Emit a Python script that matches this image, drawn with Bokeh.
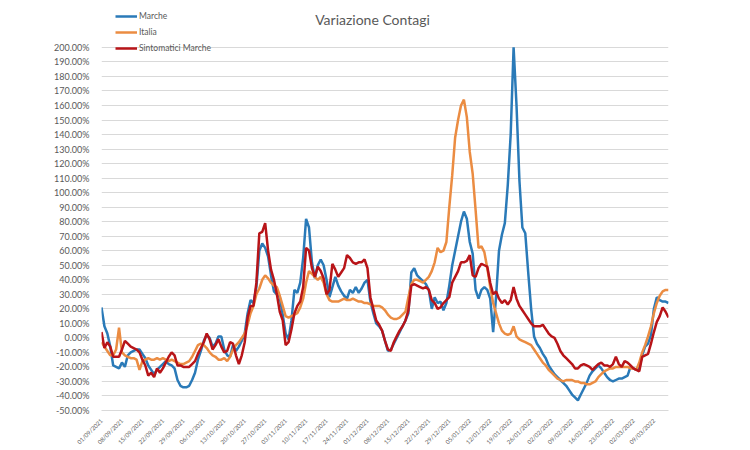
from math import pi
from bokeh.plotting import figure
from bokeh.models import Range1d, FixedTicker, PrintfTickFormatter, Legend, LegendItem, Label
from bokeh.embed import file_html
from bokeh.resources import INLINE

# Daily percentage change, from 01/09/2021
marche = [21, 8, 3, -6, -19, -20, -21, -17, -20, -12, -10, -9, -8, -8, -11, -14, -19, -22, -25, -22,
          -20, -18, -16, -18, -19, -21, -29, -33, -34, -34, -33, -29, -24, -15, -9, -2,
          2, 0, -6, -4, 1, 1, -8, -12, -13, -5, -9, -6, -2, 3, 17, 26, 24, 35, 60, 65, 62, 56, 43, 32,
          30, 28, 16, 3, -1, 12, 33, 31, 38, 55, 82,
          76, 52, 41, 50, 54, 50, 40, 28, 35, 42, 36, 32, 29, 27, 33, 31, 35, 31, 34, 38,
          40, 25, 17, 10, 8, 5, -2, -9, -8, -4, 0, 4, 8, 12,
          17, 45, 48, 43, 41, 39, 37, 33, 20, 28, 24, 25, 19, 24, 36, 50, 60, 70, 80, 87,
          82, 66, 58, 33, 27, 33, 35, 33, 27, 4, 28, 60, 71, 79,
          105, 140, 200, 160, 108, 76, 72, 45, 20, 1,
          -4, -7, -11, -14, -19, -22, -25, -27, -29, -31, -33, -36, -39, -41, -43, -39, -35, -31, -26, -23,
          -21, -19, -21, -24,
          -27, -29, -30, -29, -28, -28, -27, -26, -20, -21, -22, -21, -12, -6, -4, 2, 20, 28, 26, 25, 25, 24]

italia = [-3, -6, -9, -12, -12, -8, 7, -10, -12, -13, -14, -14, -15, -22, -16, -15, -14, -15, -15, -14,
          -15, -14, -15, -16, -15, -16, -17, -18, -18, -17, -16, -13, -9, -5, -4, -5,
          -7, -10, -12, -13, -15, -15, -14, -16, -13, -8, -5, -3, 0, 3, 9, 17, 22, 30, 34, 40,
          43, 41, 38, 36, 35, 29, 22, 15, 14, 15, 16, 17, 21, 27, 38,
          46, 44, 42, 40, 42, 38, 30, 26, 25, 25, 25, 26, 27, 26, 26, 27, 26, 25, 25, 24,
          24, 23, 22, 22, 22, 21, 19, 16, 14, 13, 13, 14, 16, 18,
          28, 37, 40, 40, 39, 38, 40, 42, 46, 52, 62, 59, 60, 66, 90, 112, 138, 150, 160, 164,
          152, 128, 113, 88, 62, 63, 59, 48, 35, 24, 17, 10, 5, 3,
          2, 3, 8, 1, -1, -2, -3, -4, -5, -8, -11, -14, -17, -19, -22, -24, -26, -28, -29, -30,
          -29, -29, -29, -30, -30, -31, -31, -32, -32, -31, -30, -27, -25, -23,
          -22, -21, -21, -20, -20, -20, -20, -20, -21, -21, -22, -17, -10, -5, 1, 8, 17, 24, 29, 32, 33, 33]

sintomatici = [4, -7, -3, -6, -13, -13, -13, -8, -2, -4, -6, -7, -8, -10, -15, -19, -26, -24, -27, -21,
               -24, -21, -17, -13, -10, -12, -19, -19, -20, -20, -20, -18, -16, -11, -7, -3,
               3, -1, -8, -5, -1, -6, -10, -9, -3, -4, -12, -18, -12, -3, 14, 22, 22, 38, 72, 73,
               79, 60, 47, 40, 30, 18, 12, -5, -3, 6, 17, 22, 25, 35, 62,
               60, 48, 42, 49, 46, 41, 30, 33, 51, 47, 42, 45, 48, 57, 55, 52, 51, 52, 52, 54,
               48, 28, 20, 12, 9, 5, -2, -8, -9, -3, 1, 5, 8, 12,
               19, 36, 37, 36, 35, 34, 35, 33, 26, 24, 20, 21, 24, 26, 28, 38, 42, 46, 52, 52,
               53, 57, 43, 42, 48, 51, 50, 49, 38, 30, 32, 27, 24, 26,
               23, 26, 35, 27, 22, 19, 16, 13, 10, 8, 8, 8, 9, 6, 3, 1, 0, -4, -9, -12,
               -14, -16, -18, -21, -21, -19, -18, -19, -20, -22, -20, -18, -17, -19,
               -19, -20, -18, -13, -18, -20, -16, -17, -19, -21, -22, -23, -13, -12, -11, -4, 4, 11, 15, 21, 18, 14]

tick_labels = ["01/09/2021", "08/09/2021", "15/09/2021", "22/09/2021", "29/09/2021", "06/10/2021",
               "13/10/2021", "20/10/2021", "27/10/2021", "03/11/2021", "10/11/2021", "17/11/2021",
               "24/11/2021", "01/12/2021", "08/12/2021", "15/12/2021", "22/12/2021", "29/12/2021",
               "05/01/2022", "12/01/2022", "19/01/2022", "26/01/2022", "02/02/2022", "09/02/2022",
               "16/02/2022", "23/02/2022", "02/03/2022", "09/03/2022"]
y_ticks = list(range(-50, 201, 10))

FONT = "Lato"
TXT = "#595959"

# frame spans from the top of the canvas to the -50% line; the 200% line sits 47px below the top
FRAME_H = 411
Y_MIN, Y_MAX = -50, 200
y_top = Y_MIN + (Y_MAX - Y_MIN) * FRAME_H / 364.0

n = max(len(marche), len(italia), len(sintomatici))
p = figure(width=750, height=450, output_backend="svg", toolbar_location=None,
           x_range=Range1d(0, n - 1), y_range=Range1d(Y_MIN, y_top),
           min_border_left=101, min_border_right=82, min_border_top=0, min_border_bottom=39)
p.outline_line_color = None
p.background_fill_color = "white"
p.border_fill_color = "white"

r1 = p.line(list(range(len(marche))), marche, line_color="#2A7AB8", line_width=2.5)
r2 = p.line(list(range(len(italia))), italia, line_color="#EB8C42", line_width=2.5)
r3 = p.line(list(range(len(sintomatici))), sintomatici, line_color="#B81418", line_width=2.5)

# axes
p.yaxis.ticker = FixedTicker(ticks=y_ticks)
p.yaxis.formatter = PrintfTickFormatter(format="%.2f%%")
p.yaxis.axis_line_color = None
p.yaxis.major_tick_line_color = None
p.yaxis.minor_tick_line_color = None
p.yaxis.major_label_text_font = FONT
p.yaxis.major_label_text_font_size = "9px"
p.yaxis.major_label_text_color = TXT
p.yaxis.major_label_standoff = 6

xt = [7 * i for i in range(len(tick_labels))]
p.xaxis.ticker = FixedTicker(ticks=xt)
p.xaxis.major_label_overrides = {t: lab for t, lab in zip(xt, tick_labels)}
p.xaxis.major_label_orientation = pi / 4
p.xaxis.axis_line_color = "#D9D9D9"
p.xaxis.major_tick_line_color = None
p.xaxis.minor_tick_line_color = None
p.xaxis.major_label_text_font = FONT
p.xaxis.major_label_text_font_size = "6px"
p.xaxis.major_label_text_color = TXT
p.xaxis.major_label_standoff = 3

p.xgrid.grid_line_color = None
p.ygrid.grid_line_color = "#D9D9D9"
p.ygrid.grid_line_width = 1

legend = Legend(items=[LegendItem(label="Marche", renderers=[r1]),
                       LegendItem(label="Italia", renderers=[r2]),
                       LegendItem(label="Sintomatici Marche", renderers=[r3])],
                location=(14, FRAME_H - 56), orientation="vertical",
                border_line_color=None, background_fill_alpha=0,
                label_text_font=FONT, label_text_font_size="8.5px", label_text_color=TXT,
                glyph_width=22, glyph_height=14, label_height=14, spacing=2,
                padding=0, margin=0, label_standoff=2)
p.add_layout(legend)

title = Label(x=271, y=FRAME_H - 20, x_units="screen", y_units="screen", text="Variazione Contagi",
              text_align="center", text_baseline="middle", text_font=FONT,
              text_font_size="14px", text_color=TXT)
p.add_layout(title)

open("out.html", "w").write(file_html(p, INLINE))
